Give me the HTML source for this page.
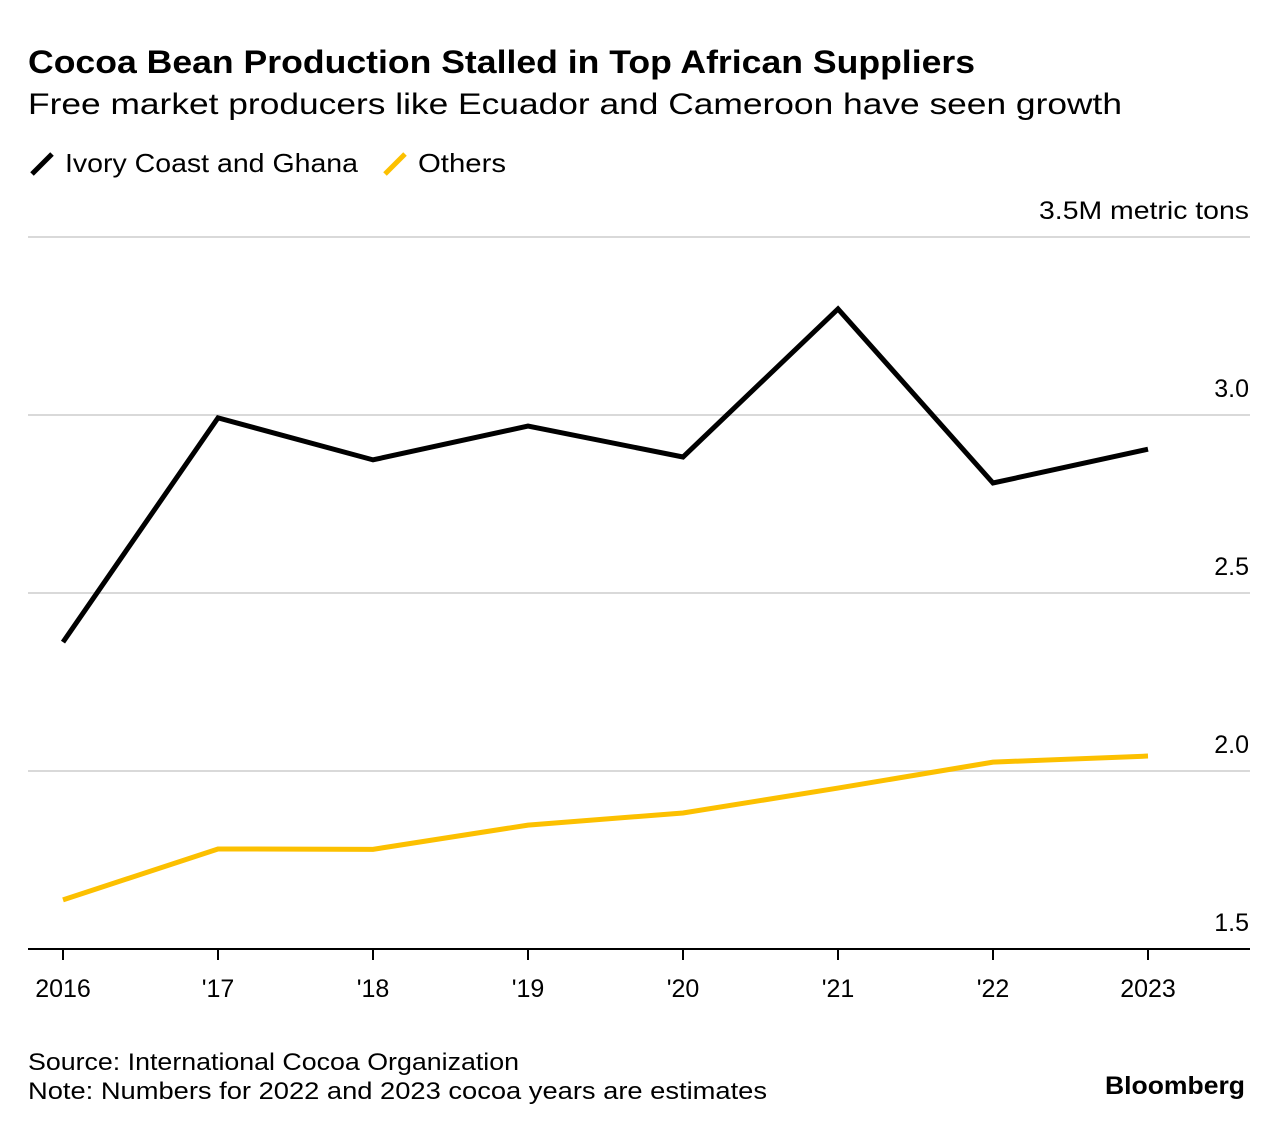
<!DOCTYPE html>
<html><head><meta charset="utf-8"><style>
body{margin:0;background:#fff;font-family:"Liberation Sans",sans-serif;}
svg{display:block}
</style></head><body>
<svg width="1284" height="1130" xmlns="http://www.w3.org/2000/svg">
<text x="28" y="73" font-size="32" font-weight="bold" fill="#000" textLength="947" lengthAdjust="spacingAndGlyphs">Cocoa Bean Production Stalled in Top African Suppliers</text>
<text x="28" y="114" font-size="30" fill="#000" textLength="1094" lengthAdjust="spacingAndGlyphs">Free market producers like Ecuador and Cameroon have seen growth</text>
<g>
<line x1="32" y1="174" x2="52" y2="154" stroke="#000" stroke-width="5"/>
<text x="65" y="172" font-size="26" textLength="293" lengthAdjust="spacingAndGlyphs">Ivory Coast and Ghana</text>
<line x1="385" y1="174" x2="405" y2="154" stroke="#fcc000" stroke-width="5"/>
<text x="418" y="172" font-size="26" textLength="88" lengthAdjust="spacingAndGlyphs">Others</text>
</g>
<g id="grid"></g><g id="xaxis"></g><g id="series"></g>
<text x="28" y="1070" font-size="24" textLength="491" lengthAdjust="spacingAndGlyphs">Source: International Cocoa Organization</text>
<text x="28" y="1099" font-size="24" textLength="739" lengthAdjust="spacingAndGlyphs">Note: Numbers for 2022 and 2023 cocoa years are estimates</text>
<text x="1105" y="1094" font-size="25" font-weight="bold" textLength="140" lengthAdjust="spacingAndGlyphs">Bloomberg</text>
</svg>
<script>
const categories=["2016","'17","'18","'19","'20","'21","'22","2023"];
const ivoryGhana=[2.362,2.992,2.874,2.969,2.882,3.298,2.809,2.904];
const others=[1.638,1.781,1.780,1.848,1.882,1.952,2.025,2.042];
const yTicks=[1.5,2.0,2.5,3.0,3.5];
const yTickLabels=["1.5","2.0","2.5","3.0","3.5M metric tons"];
const NS="http://www.w3.org/2000/svg";
const y=v=>949-(v-1.5)*356;
const x=i=>63+i*155;
function mk(t,a,p){const e=document.createElementNS(NS,t);for(const k in a)e.setAttribute(k,a[k]);p.appendChild(e);return e;}
const g=document.getElementById('grid'),xa=document.getElementById('xaxis'),s=document.getElementById('series');
yTicks.forEach((v,i)=>{
 if(i>0){const l=mk('line',{x1:28,x2:1250,y1:y(v),y2:y(v),stroke:'#d9d9d9','stroke-width':2},g);
 
 }
 const attrs={x:1249,y:y(v)-18,'font-size':25,'text-anchor':'end'};
 if(i===yTicks.length-1){attrs.textLength=210;attrs.lengthAdjust='spacingAndGlyphs';}
 const t=mk('text',attrs,g);t.textContent=yTickLabels[i];
 
 
});
const base=mk('line',{x1:28,x2:1250,y1:949,y2:949,stroke:'#000','stroke-width':2},xa);


categories.forEach((c,i)=>{
 const tk=mk('line',{x1:x(i),x2:x(i),y1:949,y2:960,stroke:'#000','stroke-width':2},xa);
 
 
 const t=mk('text',{x:x(i),y:997,'font-size':25,'text-anchor':'middle'},xa);t.textContent=c;
 
 
});
function line(d,col,name){const p=mk('polyline',{points:d.map((v,i)=>x(i)+','+y(v)).join(' '),fill:'none',stroke:col,'stroke-width':5,'stroke-linejoin':'miter'},s);
 
 }
line(others,'#fcc000','others-line');
line(ivoryGhana,'#000','ivory-ghana-line');
</script>
</body></html>
